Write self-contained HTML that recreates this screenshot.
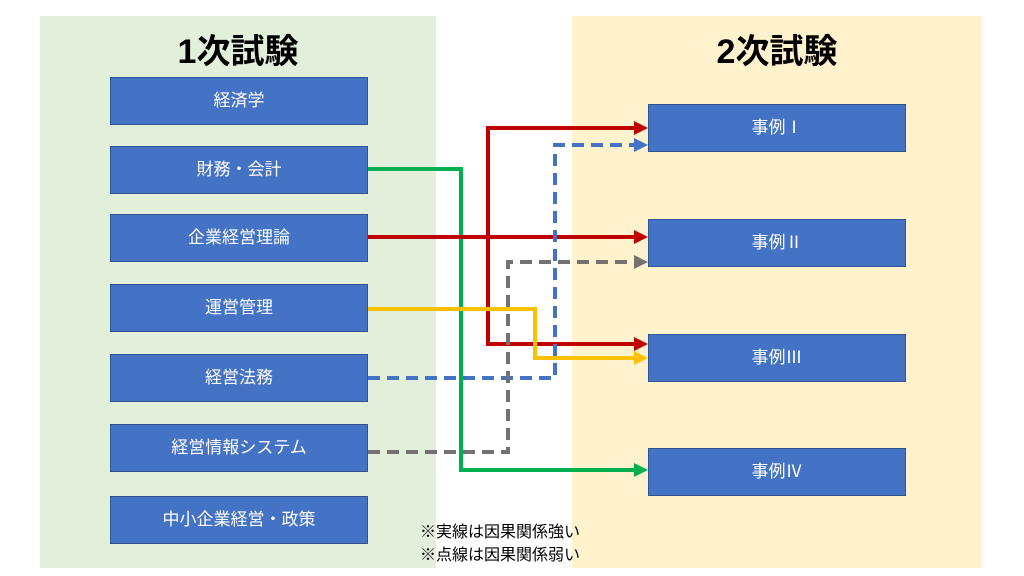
<!DOCTYPE html><html><head><meta charset="utf-8"><style>
body{margin:0;width:1024px;height:576px;background:#fff;position:relative;overflow:hidden;font-family:"Liberation Sans","Noto Sans CJK JP",sans-serif}
.p{position:absolute}
.b{position:absolute;background:#4472c4;color:#fff;font-size:17px;display:flex;align-items:center;justify-content:center;border:1px solid #2f5597;box-sizing:border-box;padding-bottom:5px}
.r{font-family:"Noto Sans CJK JP",sans-serif}
.t{position:absolute;font-size:34px;font-weight:bold;color:#000;text-align:center}
.n{position:absolute;left:420px;font-size:16px;color:#000}
</style></head><body>
<div class="p" style="left:40px;top:16px;width:396px;height:552px;background:#e2efda"></div>
<div class="p" style="left:572px;top:16px;width:410px;height:552px;background:#fff2cc"></div>
<div class="t" style="left:40px;width:396px;top:24px">1次試験</div>
<div class="t" style="left:572px;width:410px;top:24px">2次試験</div>
<div class="b" style="left:110px;top:77px;width:258px;height:48px">経済学</div>
<div class="b" style="left:110px;top:146px;width:258px;height:48px">財務・会計</div>
<div class="b" style="left:110px;top:214px;width:258px;height:48px">企業経営理論</div>
<div class="b" style="left:110px;top:284px;width:258px;height:48px">運営管理</div>
<div class="b" style="left:110px;top:354px;width:258px;height:48px">経営法務</div>
<div class="b" style="left:110px;top:424px;width:258px;height:48px">経営情報システム</div>
<div class="b" style="left:110px;top:496px;width:258px;height:48px">中小企業経営・政策</div>
<div class="b r" style="left:648px;top:104px;width:258px;height:48px">事例Ⅰ</div>
<div class="b r" style="left:648px;top:219px;width:258px;height:48px">事例Ⅱ</div>
<div class="b r" style="left:648px;top:334px;width:258px;height:48px">事例Ⅲ</div>
<div class="b r" style="left:648px;top:448px;width:258px;height:48px">事例Ⅳ</div>
<svg class="p" style="left:0;top:0" width="1024" height="576" fill="none" stroke-width="4">
<polyline points="368,169 461,169 461,470 636,470" stroke="#00b050"/>
<polygon points="648,470 634,463 634,477" fill="#00b050"/>
<polyline points="368,237 636,237" stroke="#c00000"/>
<polygon points="648,237 634,230 634,244" fill="#c00000"/>
<polyline points="636,128 488,128 488,344 636,344" stroke="#c00000"/>
<polygon points="648,128 634,121 634,135" fill="#c00000"/>
<polygon points="648,344 634,337 634,351" fill="#c00000"/>
<polyline points="368,309 535,309 535,358 636,358" stroke="#ffc000"/>
<polygon points="648,358 634,351 634,365" fill="#ffc000"/>
<polyline points="368,378 555,378 555,145 636,145" stroke="#4472c4" stroke-dasharray="12,7"/>
<polygon points="648,145 634,138 634,152" fill="#4472c4"/>
<polyline points="368,452 508,452 508,262 636,262" stroke="#767171" stroke-dasharray="12,7"/>
<polygon points="648,262 634,255 634,269" fill="#767171"/>
</svg>
<div class="n" style="top:518px">※実線は因果関係強い</div>
<div class="n" style="top:541px">※点線は因果関係弱い</div>
</body></html>
